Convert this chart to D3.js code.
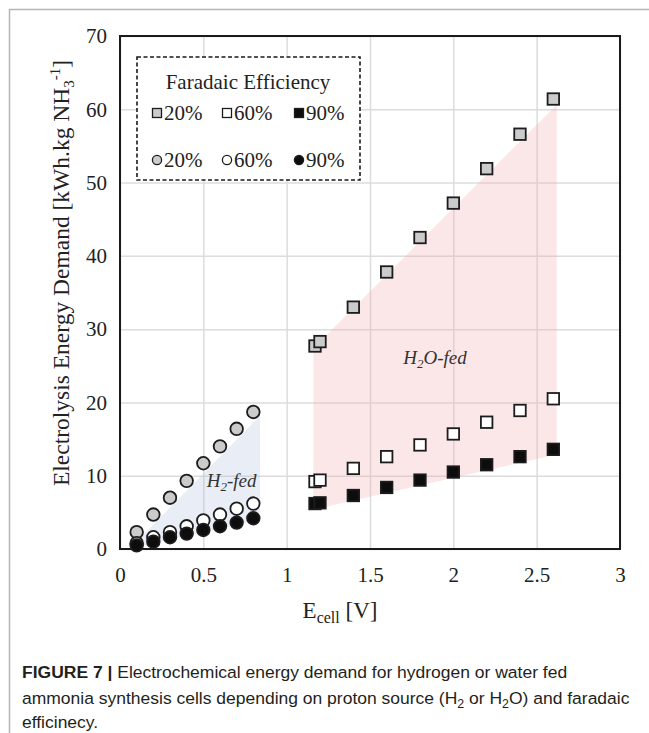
<!DOCTYPE html>
<html>
<head>
<meta charset="utf-8">
<script src="https://cdn.jsdelivr.net/npm/d3@7"></script>
<style>
  body { margin: 0; background: #fff; }
  svg { display: block; }
</style>
</head>
<body>
<svg id="chart"></svg>
<script>
// H2-fed cells (circles)
const h2Volts = [0.1, 0.2, 0.3, 0.4, 0.5, 0.6, 0.7, 0.8];
const h2FE20 = [2.3, 4.7, 7.0, 9.3, 11.7, 14.0, 16.4, 18.7];
const h2FE60 = [0.8, 1.6, 2.3, 3.1, 3.9, 4.7, 5.5, 6.2];
const h2FE90 = [0.5, 1.0, 1.6, 2.1, 2.6, 3.1, 3.6, 4.2];

// H2O-fed cells (squares)
const h2oVolts = [1.17, 1.2, 1.4, 1.6, 1.8, 2.0, 2.2, 2.4, 2.6];
const h2oFE20 = [27.7, 28.3, 33.0, 37.8, 42.5, 47.2, 51.9, 56.6, 61.4];
const h2oFE60 = [9.2, 9.4, 11.0, 12.6, 14.2, 15.7, 17.3, 18.9, 20.5];
const h2oFE90 = [6.2, 6.3, 7.3, 8.4, 9.4, 10.5, 11.5, 12.6, 13.6];

// shaded bands [V, kWh/kg]
const h2Band = [[0.1, 1.0], [0.84, 18.2], [0.84, 4.0], [0.1, 0.3]];
const h2oBand = [[1.16, 27.4], [2.62, 60.6], [2.62, 12.9], [1.16, 5.4]];

const xTicks = [0, 0.5, 1, 1.5, 2, 2.5, 3];
const yTicks = [0, 10, 20, 30, 40, 50, 60, 70];
const feLabels = ['20%', '60%', '90%'];

const W = 649, H = 733;
const margin = { left: 120, right: 29, top: 36, bottom: 184 };
const serif = '"Liberation Serif", "Times New Roman", serif';

const svg = d3.select('#chart')
	.attr('width', W)
	.attr('height', H)
	.attr('viewBox', [0, 0, W, H]);

// outer figure frame (left / top edges)
svg.append('path')
	.attr('d', `M9.5,${H} V9.5 H${W}`)
	.attr('fill', 'none')
	.attr('stroke', '#b5b5b5')
	.attr('stroke-width', 1.5);

const x = d3.scaleLinear()
	.domain([0, 3])
	.range([margin.left, W - margin.right]);

const y = d3.scaleLinear()
	.domain([0, 70])
	.range([H - margin.bottom, margin.top]);

// gridlines
svg.append('g')
	.attr('transform', `translate(0,${y(0)})`)
	.call(d3.axisBottom(x).tickValues(xTicks).tickSize(-(y(0) - y(70))).tickFormat(''))
	.call(g => g.select('.domain').remove())
	.call(g => g.selectAll('line').attr('stroke', '#dcdcdc').attr('stroke-width', 1.5));

svg.append('g')
	.attr('transform', `translate(${x(0)},0)`)
	.call(d3.axisLeft(y).tickValues(yTicks).tickSize(-(x(3) - x(0))).tickFormat(''))
	.call(g => g.select('.domain').remove())
	.call(g => g.selectAll('line').attr('stroke', '#dcdcdc').attr('stroke-width', 1.5));

// bands
const bandLine = d3.line().x(d => x(d[0])).y(d => y(d[1]));

svg.append('path')
	.attr('d', bandLine(h2Band) + 'Z')
	.attr('fill', '#a9bcdc')
	.attr('fill-opacity', 0.27);

svg.append('path')
	.attr('d', bandLine(h2oBand) + 'Z')
	.attr('fill', '#f2b0b0')
	.attr('fill-opacity', 0.3);

// plot frame
svg.append('rect')
	.attr('x', x(0))
	.attr('y', y(70))
	.attr('width', x(3) - x(0))
	.attr('height', y(0) - y(70))
	.attr('fill', 'none')
	.attr('stroke', '#1a1a1a')
	.attr('stroke-width', 2);

// tick labels
svg.append('g')
	.attr('transform', `translate(0,${y(0)})`)
	.call(d3.axisBottom(x).tickValues(xTicks).tickSize(0).tickPadding(18).tickFormat(d3.format('')))
	.call(g => g.select('.domain').remove())
	.call(g => g.selectAll('text')
		.attr('font-family', serif)
		.attr('font-size', 21)
		.attr('fill', '#222'));

svg.append('g')
	.attr('transform', `translate(${x(0)},0)`)
	.call(d3.axisLeft(y).tickValues(yTicks).tickSize(0).tickPadding(13))
	.call(g => g.select('.domain').remove())
	.call(g => g.selectAll('text')
		.attr('font-family', serif)
		.attr('font-size', 21)
		.attr('fill', '#222'));

// axis titles
const xTitle = svg.append('text')
	.attr('x', 340)
	.attr('y', 618)
	.attr('text-anchor', 'middle')
	.attr('font-family', serif)
	.attr('font-size', 23)
	.attr('fill', '#222');
xTitle.append('tspan').text('E');
xTitle.append('tspan').attr('dy', 5).attr('font-size', 16).text('cell');
xTitle.append('tspan').attr('dy', -5).text(' [V]');

const yTitle = svg.append('text')
	.attr('transform', `translate(69,273) rotate(-90)`)
	.attr('text-anchor', 'middle')
	.attr('font-family', serif)
	.attr('font-size', 23.5)
	.attr('fill', '#222');
yTitle.append('tspan').text('Electrolysis Energy Demand [kWh.kg NH');
yTitle.append('tspan').attr('dy', 5).attr('font-size', 15).text('3');
yTitle.append('tspan').attr('dy', -14).attr('font-size', 15).text('-1');
yTitle.append('tspan').attr('dy', 9).text(']');

// band labels
const h2oLabel = svg.append('text')
	.attr('x', x(1.89))
	.attr('y', y(25.2))
	.attr('text-anchor', 'middle')
	.attr('font-family', serif)
	.attr('font-style', 'italic')
	.attr('font-size', 19)
	.attr('fill', '#333');
h2oLabel.append('tspan').text('H');
h2oLabel.append('tspan').attr('dy', 4).attr('font-size', 13).text('2');
h2oLabel.append('tspan').attr('dy', -4).text('O-fed');

const h2Label = svg.append('text')
	.attr('x', x(0.67))
	.attr('y', y(8.4))
	.attr('text-anchor', 'middle')
	.attr('font-family', serif)
	.attr('font-style', 'italic')
	.attr('font-size', 19)
	.attr('fill', '#333');
h2Label.append('tspan').text('H');
h2Label.append('tspan').attr('dy', 4).attr('font-size', 13).text('2');
h2Label.append('tspan').attr('dy', -4).text('-fed');

// markers
const fills = ['#cbcbcb', '#ffffff', '#0d0d0d'];
const markerStroke = '#1c1c1c';

[h2FE20, h2FE60, h2FE90].forEach((vals, i) => {
	svg.append('g')
		.selectAll('circle')
		.data(vals)
		.enter()
			.append('circle')
			.attr('cx', (d, j) => x(h2Volts[j]))
			.attr('cy', d => y(d))
			.attr('r', 6.3)
			.attr('fill', fills[i])
			.attr('stroke', markerStroke)
			.attr('stroke-width', 1.8);
});

const sq = 11.5;
[h2oFE20, h2oFE60, h2oFE90].forEach((vals, i) => {
	svg.append('g')
		.selectAll('rect')
		.data(vals)
		.enter()
			.append('rect')
			.attr('x', (d, j) => x(h2oVolts[j]) - sq / 2)
			.attr('y', d => y(d) - sq / 2)
			.attr('width', sq)
			.attr('height', sq)
			.attr('fill', fills[i])
			.attr('stroke', markerStroke)
			.attr('stroke-width', 1.8);
});

// legend
const legend = svg.append('g');
legend.append('rect')
	.attr('x', 137)
	.attr('y', 57)
	.attr('width', 223)
	.attr('height', 123)
	.attr('fill', '#fff')
	.attr('stroke', '#1a1a1a')
	.attr('stroke-width', 1.6)
	.attr('stroke-dasharray', '4,2.5');

legend.append('text')
	.attr('x', 248)
	.attr('y', 89)
	.attr('text-anchor', 'middle')
	.attr('font-family', serif)
	.attr('font-size', 21)
	.attr('fill', '#222')
	.text('Faradaic Efficiency');

const colX = [157, 227, 299];
feLabels.forEach((lab, i) => {
	legend.append('rect')
		.attr('x', colX[i] - 4.5)
		.attr('y', 113 - 4.5)
		.attr('width', 9)
		.attr('height', 9)
		.attr('fill', fills[i])
		.attr('stroke', markerStroke)
		.attr('stroke-width', 1.3);
	legend.append('text')
		.attr('x', colX[i] + 7)
		.attr('y', 120)
		.attr('font-family', serif)
		.attr('font-size', 21)
		.attr('fill', '#222')
		.text(lab);

	legend.append('circle')
		.attr('cx', colX[i])
		.attr('cy', 160)
		.attr('r', 4.6)
		.attr('fill', fills[i])
		.attr('stroke', markerStroke)
		.attr('stroke-width', 1.3);
	legend.append('text')
		.attr('x', colX[i] + 7)
		.attr('y', 167)
		.attr('font-family', serif)
		.attr('font-size', 21)
		.attr('fill', '#222')
		.text(lab);
});

// caption
const sans = '"Liberation Sans", Arial, sans-serif';
const cap = svg.append('g').attr('fill', '#231f20');

const l1 = cap.append('text').attr('y', 678).attr('font-family', sans).attr('font-size', 17);
l1.append('tspan').attr('font-weight', 'bold').text('FIGURE 7 | ');
l1.append('tspan').text('Electrochemical energy demand for hydrogen or water fed');

const l2 = cap.append('text').attr('y', 704).attr('font-family', sans).attr('font-size', 17);
l2.append('tspan').text('ammonia synthesis cells depending on proton source (H');
l2.append('tspan').attr('dy', 4).attr('font-size', 12).text('2');
l2.append('tspan').attr('dy', -4).text(' or H');
l2.append('tspan').attr('dy', 4).attr('font-size', 12).text('2');
l2.append('tspan').attr('dy', -4).text('O) and faradaic');

const l3 = cap.append('text').attr('y', 728).attr('font-family', sans).attr('font-size', 17);
l3.append('tspan').text('efficinecy.');

// squeeze the caption to the narrow face of the original
const k = 608 / l2.node().getComputedTextLength();
[l1, l2, l3].forEach(t => t.attr('transform', `translate(22,0) scale(${k},1)`));
</script>
</body>
</html>
